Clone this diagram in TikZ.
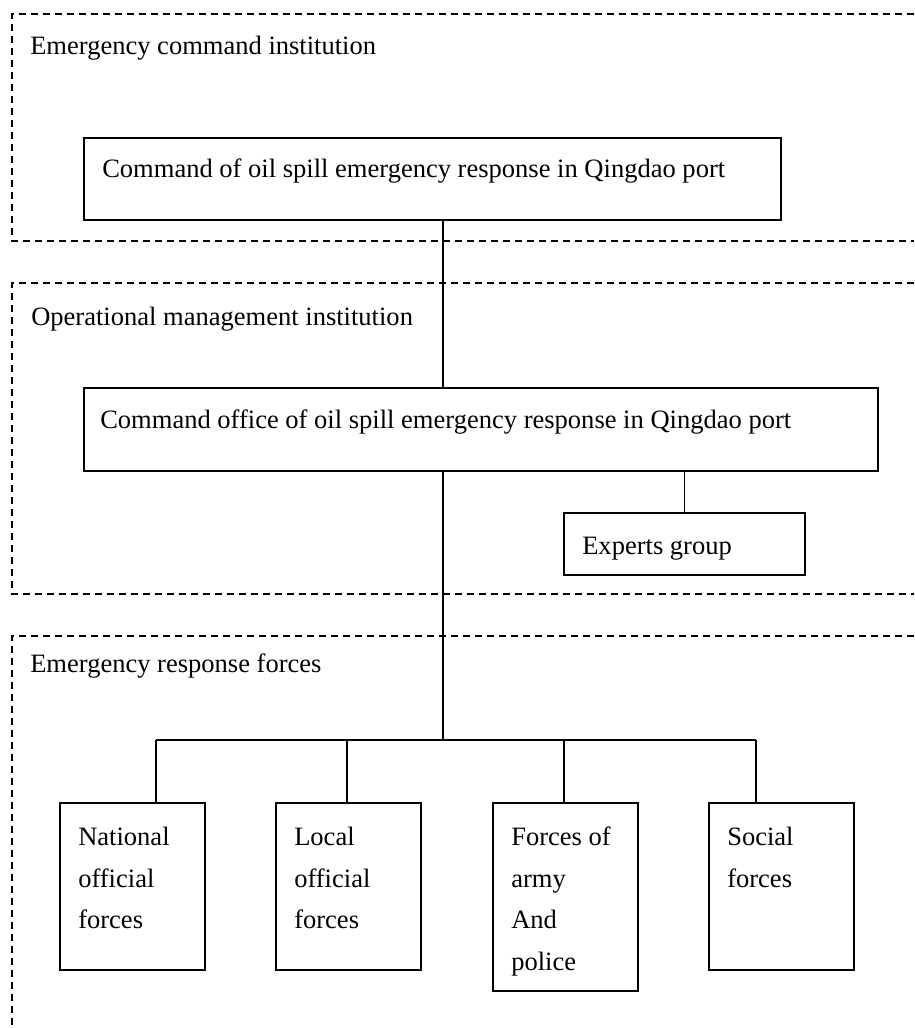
\documentclass[tikz,border=0pt]{standalone}
\usepackage{fontspec}
\setmainfont{Liberation Serif}
\tikzset{
  zone/.style={dash pattern=on 5.5pt off 3.5pt, line width=1.4pt},
  box/.style 2 args={draw, line width=1.2pt, anchor=north west, inner sep=0pt,
    minimum width=#1*0.75pt, minimum height=#2*0.75pt},
  txt/.style={inner sep=0pt, align=left, font=\fontsize{19.9pt}{31.1pt}\selectfont},
  link/.style={line width=1.2pt},
}
\begin{document}
\begin{tikzpicture}[x=0.75pt,y=0.75pt]
\useasboundingbox (0,0) rectangle (914,-1028);
% dashed zones
\draw[zone] (914,-14) -- (12,-14) -- (12,-241) -- (914,-241);
\draw[zone] (914,-283) -- (12,-283) -- (12,-594) -- (914,-594);
\draw[zone] (914,-636) -- (12,-636) -- (12,-1028);
\node[txt, anchor=base west] (zcmd) at (30,-54) {Emergency command institution};
\node[txt, anchor=base west] (zops) at (31,-325) {Operational management institution};
\node[txt, anchor=base west] (zfor) at (30,-672) {Emergency response forces};
% command boxes
\node[box={697}{82}] (cmd) at (83,-137) {};
\node[txt, anchor=base west] (cmd-t) at (102,-177) {Command of oil spill emergency response in Qingdao port};
\node[box={794}{83}] (office) at (83,-387) {};
\node[txt, anchor=base west] (office-t) at (100,-428) {Command office of oil spill emergency response in Qingdao port};
\node[box={241}{62}] (exp) at (563,-512) {};
\node[txt, anchor=base west] (exp-t) at (582,-554) {Experts group};
% forces
\foreach \n/\bx/\lx/\h/\txt in {nat/59/156/167/{National\\official\\forces},
    loc/275/347/167/{Local\\official\\forces},
    arm/492/564/188/{Forces of\\army\\And\\police},
    soc/708/756/167/{Social\\forces}}{
  \node[box={145}{\h}] (\n) at (\bx,-802) {};
  \node[txt, anchor=north west] (\n-t) at (\bx+19,-827) {\txt};
  \coordinate (top-\n) at (\lx,-740);
  \draw[link] (top-\n) -- (top-\n |- \n.north);
}
\coordinate (spine) at (443,-740);
\draw[link] (cmd.south -| spine) -- (office.north -| spine);
\draw[link] (office.south -| spine) -- (spine);
\draw[link] (exp.north |- office.south) -- (exp.north);
\draw[link] (top-nat) -- (top-soc);
\end{tikzpicture}
\end{document}
